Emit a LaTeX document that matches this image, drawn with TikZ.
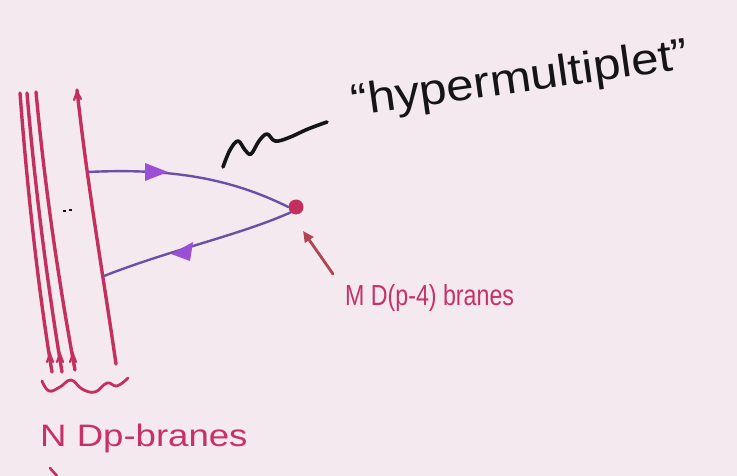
\documentclass[tikz,border=0pt]{standalone}
\usepackage{fontspec}
\setmainfont{Liberation Sans}
\usetikzlibrary{arrows.meta,calc}
\definecolor{paper}{HTML}{F3E9EE}
\definecolor{brane}{HTML}{C4305E}
\definecolor{branelabel}{HTML}{C8306A}
\definecolor{string}{HTML}{6E4FA8}
\definecolor{stringtip}{HTML}{9A4FD6}
\definecolor{pointer}{HTML}{B24452}
\definecolor{ink}{HTML}{151515}
\tikzset{
  braneline/.style={draw=brane, line width=3.4pt, line cap=round},
  openstring/.style={draw=string, line width=2.4pt, line cap=round},
  strtip/.style={stringtip, fill=stringtip},
  inkline/.style={draw=ink, line width=3.6pt, line cap=round, line join=round},
  pinktext/.style={text=branelabel, font=\fontsize{31}{31}\selectfont},
}
\begin{document}
\begin{tikzpicture}[x=1pt,y=-1pt]
  \fill[paper] (0,0) rectangle (737,476);
  \useasboundingbox (0,0) rectangle (737,476);

  % stack of N Dp-branes
  \coordinate (a1t) at (20,93);  \coordinate (a1b) at (52,372);
  \coordinate (a2t) at (27,93);  \coordinate (a2b) at (62,372);
  \coordinate (a3t) at (36,92);  \coordinate (a3b) at (75,370);
  \coordinate (bt) at (77,90);   \coordinate (bb) at (116,364);
  \draw[braneline] (a1t) .. controls (28,200) and (40,300) .. (a1b);
  \draw[braneline] (a2t) .. controls (36,200) and (50,300) .. (a2b);
  \draw[braneline] (a3t) .. controls (46,200) and (62,300) .. (a3b);
  \draw[braneline] (bt) .. controls (88,190) and (104,280) .. (bb);
  % orientation ticks
  \foreach \x in {50,60,73}
    \draw[draw=brane, line width=2.2pt, line cap=round] (\x-3,362) -- (\x,354) -- (\x+3,362);
  \draw[draw=brane, line width=2.2pt, line cap=round] (74,100) -- (77,92) -- (81,99);

  % small dash beside the brane
  \draw[draw=ink, line width=2.4pt] (63,211) -- (66,211);
  \draw[draw=ink, line width=2.4pt] (69,210) -- (72,210);

  % brace under the stack
  \draw[braneline, line width=2.8pt] plot[smooth, tension=0.7] coordinates
    {(42,381) (49,391) (60,387) (71,380) (82,389) (95,392) (107,383) (117,386) (128,378)};
  \node[pinktext, anchor=base west, xscale=1.18, inner sep=0pt] (nlabel) at (40,446) {N Dp-branes};
  \draw[draw=brane, line width=2.6pt, line cap=round] (50,468) -- (57,476);

  % M D(p-4) branes point
  \node[circle, fill=brane, inner sep=0pt, minimum size=15pt] (dot) at (296,207) {};
  \coordinate (s1) at (88,172);
  \coordinate (s2) at (104,276);
  \draw[openstring] (s1) .. controls (170,168) and (230,178) .. (dot.west);
  \draw[openstring] (dot.south west) .. controls (240,235) and (170,250) .. (s2);
  \fill[strtip] (145,163) -- (168,172) -- (145,181) -- cycle;
  \fill[strtip] (171,254) -- (193,242) -- (190,261) -- cycle;

  \node[pinktext, anchor=base west, font=\fontsize{29}{29}\selectfont, xscale=0.8, inner sep=0pt] (mlabel) at (345,305) {M D(p-4) branes};
  \draw[draw=pointer, line width=2.8pt, line cap=round, -{Triangle[length=11pt,width=10pt]}]
    (333,274) -- (303,231);

  % wiggle and label for the hypermultiplet
  \draw[inkline] plot[smooth, tension=0.6] coordinates
    {(223,167) (230,150) (238,141) (245,150) (251,154) (259,141) (267,134) (275,141) (288,138) (308,129) (327,122)};
  \node[text=ink, anchor=base, rotate=8, xscale=1.12, inner sep=0pt, font=\fontsize{44}{44}\selectfont] (hyper) at (522,92) {“hypermultiplet”};
\end{tikzpicture}
\end{document}
